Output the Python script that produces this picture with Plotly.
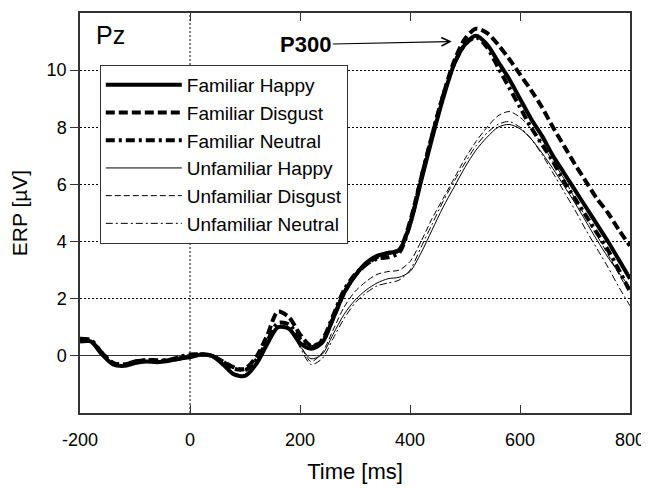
import plotly.graph_objects as go

time_ms = [-200, -180, -160, -140, -120, -100, -80, -60, -40, -20, 0, 20, 40, 60, 80, 100,
           120, 140, 160, 180, 200, 220, 240, 260, 280, 300, 320, 340, 360, 380, 400, 420,
           440, 460, 480, 500, 520, 540, 560, 580, 600, 620, 640, 660, 680, 700, 720, 740,
           760, 780, 800]

familiar_happy = [0.55, 0.5, 0.05, -0.3, -0.35, -0.25, -0.2, -0.22, -0.18, -0.1, -0.05, 0.05, 0.0,
                  -0.3, -0.65, -0.7, -0.3, 0.4, 1.0, 0.95, 0.45, 0.25, 0.45, 1.3, 2.2, 2.8, 3.25,
                  3.5, 3.6, 3.7, 4.6, 6.1, 7.6, 9.0, 10.2, 10.9, 11.2, 10.9, 10.3, 9.7, 9.0, 8.3,
                  7.7, 7.0, 6.4, 5.8, 5.2, 4.6, 4.0, 3.35, 2.7]
familiar_disgust = [0.5, 0.5, 0.1, -0.25, -0.3, -0.2, -0.15, -0.2, -0.15, -0.1, 0.0, 0.05, 0.0,
                    -0.2, -0.45, -0.45, -0.05, 0.7, 1.55, 1.35, 0.75, 0.35, 0.5, 1.3, 2.2, 2.8, 3.2,
                    3.45, 3.6, 3.7, 4.7, 6.2, 7.7, 9.1, 10.3, 11.1, 11.45, 11.3, 10.9, 10.4, 9.85,
                    9.3, 8.7, 8.0, 7.35, 6.7, 6.1, 5.5, 5.0, 4.4, 3.85]
familiar_neutral = [0.6, 0.55, 0.1, -0.25, -0.3, -0.2, -0.15, -0.15, -0.15, -0.05, 0.05, 0.05, 0.0,
                    -0.2, -0.4, -0.5, -0.15, 0.5, 1.15, 1.1, 0.6, 0.3, 0.55, 1.4, 2.3, 2.85, 3.2,
                    3.4, 3.45, 3.6, 4.6, 6.2, 7.7, 9.1, 10.2, 10.9, 11.15, 10.8, 10.1, 9.4, 8.7,
                    8.0, 7.4, 6.8, 6.1, 5.5, 4.9, 4.3, 3.7, 3.0, 2.25]
unfamiliar_happy = [0.5, 0.5, 0.05, -0.3, -0.35, -0.25, -0.2, -0.2, -0.15, -0.1, -0.05, 0.05, 0.0,
                    -0.3, -0.65, -0.7, -0.3, 0.4, 1.0, 0.95, 0.35, -0.1, 0.05, 0.75, 1.45, 1.95, 2.3,
                    2.55, 2.7, 2.75, 2.95, 3.6, 4.4, 5.2, 5.9, 6.6, 7.2, 7.65, 8.0, 8.1, 7.95, 7.6,
                    7.1, 6.55, 5.95, 5.35, 4.7, 4.05, 3.45, 2.9, 2.4]
unfamiliar_disgust = [0.55, 0.5, 0.05, -0.3, -0.35, -0.25, -0.2, -0.2, -0.15, -0.1, -0.05, 0.05, 0.0,
                      -0.3, -0.6, -0.65, -0.25, 0.45, 1.05, 1.0, 0.4, -0.2, 0.1, 0.9, 1.7, 2.25, 2.6,
                      2.85, 2.95, 3.0, 3.3, 4.0, 4.8, 5.5, 6.2, 6.9, 7.5, 8.0, 8.4, 8.55, 8.35, 7.95,
                      7.4, 6.8, 6.2, 5.5, 4.85, 4.2, 3.55, 2.85, 2.2]
unfamiliar_neutral = [0.5, 0.5, 0.05, -0.3, -0.35, -0.25, -0.2, -0.2, -0.15, -0.1, -0.05, 0.05, 0.0,
                      -0.3, -0.65, -0.7, -0.3, 0.4, 1.0, 0.95, 0.3, -0.3, -0.1, 0.6, 1.3, 1.85, 2.2,
                      2.45, 2.55, 2.65, 3.0, 3.8, 4.6, 5.4, 6.1, 6.75, 7.35, 7.8, 8.1, 8.2, 8.0, 7.6,
                      7.05, 6.4, 5.75, 5.1, 4.4, 3.75, 3.1, 2.4, 1.75]

series_names = ["Familiar Happy", "Familiar Disgust", "Familiar Neutral",
                "Unfamiliar Happy", "Unfamiliar Disgust", "Unfamiliar Neutral"]
series_values = [familiar_happy, familiar_disgust, familiar_neutral,
                 unfamiliar_happy, unfamiliar_disgust, unfamiliar_neutral]
line_widths = [4, 4, 4, 1, 1, 1]
line_dashes = ["solid", "9px,4px", "9px,4px,3px,4px", "solid", "6px,3px", "7px,3px,2px,3px"]

x_ticks = [-200, 0, 200, 400, 600, 800]
y_ticks = [0, 2, 4, 6, 8, 10]

FONT = "Arial, Liberation Sans, Helvetica, sans-serif"

fig = go.Figure()
for name, vals, w, d in zip(series_names, series_values, line_widths, line_dashes):
    fig.add_trace(go.Scatter(x=time_ms, y=vals, name=name, mode="lines",
                             line=dict(color="black", width=w, dash=d, shape="spline", smoothing=0.8)))

# dotted vertical reference line at stimulus onset
fig.add_shape(type="line", xref="x", yref="y domain", x0=0, x1=0, y0=0, y1=1,
              line=dict(color="black", width=1, dash="2px,2px"), layer="below")

fig.add_annotation(text="Pz", xref="paper", yref="paper", x=0.025, y=0.945,
                   xanchor="left", yanchor="middle", showarrow=False,
                   font=dict(family=FONT, size=25, color="black"))
fig.add_annotation(text="<b>P300</b>", x=476, y=11.0, xref="x", yref="y",
                   ax=-146, ay=3, showarrow=True, arrowhead=5, arrowsize=1.4,
                   arrowwidth=1.2, arrowcolor="black",
                   font=dict(family=FONT, size=22, color="black"))

# the page body has an 8px margin, so the figure is sized to fit the 649x489 window
fig.update_layout(
    width=641, height=481,
    margin=dict(l=72, r=19, t=5, b=76),
    paper_bgcolor="white", plot_bgcolor="white",
    font=dict(family=FONT, color="black", size=18),
    showlegend=True,
    legend=dict(x=0.036, y=0.87, xanchor="left", yanchor="top",
                bgcolor="white", bordercolor="#333", borderwidth=1,
                font=dict(family=FONT, size=19, color="black"),
                itemwidth=76, tracegroupgap=0),
)
fig.update_xaxes(range=[-200, 800], tickvals=x_ticks, ticktext=[str(v) for v in x_ticks],
                 ticks="inside", ticklen=8, tickwidth=1.2, tickcolor="#333",
                 showline=True, linecolor="#333", linewidth=1.5, mirror="ticks",
                 showgrid=False, zeroline=False, ticklabelstandoff=10, automargin=False,
                 title=dict(text="Time [ms]", font=dict(family=FONT, size=22), standoff=14),
                 tickfont=dict(family=FONT, size=18))
fig.update_yaxes(range=[-2, 12], tickvals=y_ticks, ticktext=[str(v) for v in y_ticks],
                 ticks="outside", ticklen=8, tickwidth=1.2, tickcolor="#333",
                 showline=True, linecolor="#333", linewidth=1.5, mirror=True,
                 showgrid=True, gridcolor="black", gridwidth=1, griddash="2px,2px",
                 zeroline=True, zerolinecolor="#333", zerolinewidth=1.2, automargin=False,
                 title=dict(text="ERP [µV]", font=dict(family=FONT, size=21), standoff=18),
                 tickfont=dict(family=FONT, size=18))

fig.write_html("out.html")
